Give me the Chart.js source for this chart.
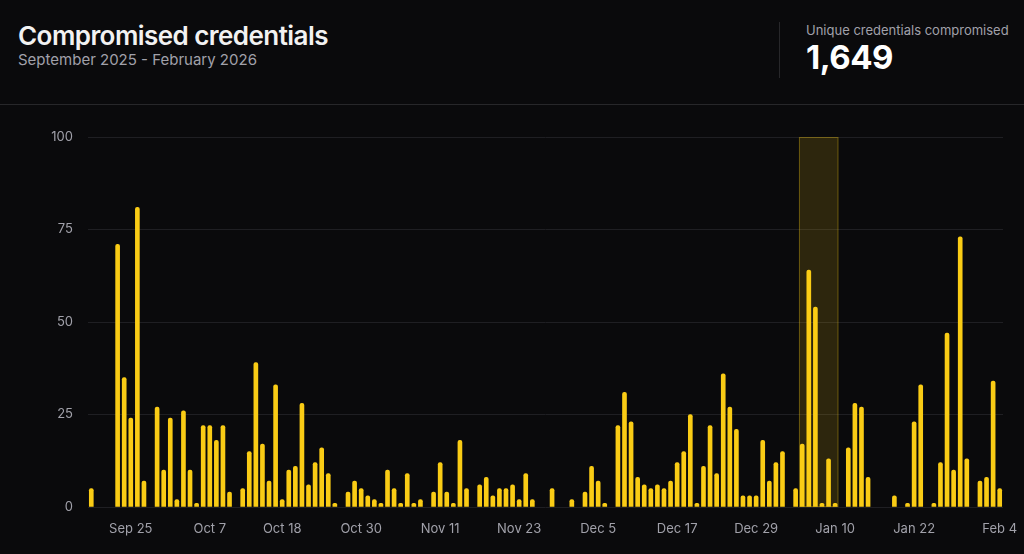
<!DOCTYPE html>
<html>
<head>
<meta charset="utf-8">
<script src="https://cdn.jsdelivr.net/npm/chart.js@4.4.1/dist/chart.umd.min.js"></script>
<style>
  html, body { margin: 0; padding: 0; background: #0a0a0c; }
  body { width: 1024px; height: 554px; position: relative; overflow: hidden; font-family: Inter, "Noto Sans", sans-serif; }
  .header { position: absolute; left: 0; top: 0; width: 1024px; height: 104px; border-bottom: 1px solid #27272a; }
  .title { position: absolute; left: 18px; top: 20px; color: #f2f2f2; font-size: 26px; font-weight: 600; letter-spacing: -0.55px; }
  .subtitle { position: absolute; left: 18px; top: 50px; color: #a1a1aa; font-size: 15px; }
  .divider { position: absolute; left: 779px; top: 22px; width: 1px; height: 56px; background: #27272a; }
  .stat-label { position: absolute; left: 806px; top: 22px; color: #a1a1aa; font-size: 13px; }
  .stat-value { position: absolute; left: 806px; top: 37px; color: #ffffff; font-size: 33px; font-weight: 700; letter-spacing: -0.5px; }
  .chart-box { position: absolute; left: 0; top: 105px; width: 1024px; height: 449px; }
</style>
</head>
<body>
<div class="header">
  <div class="title">Compromised credentials</div>
  <div class="subtitle">September 2025 - February 2026</div>
  <div class="divider"></div>
  <div class="stat-label">Unique credentials compromised</div>
  <div class="stat-value">1,649</div>
</div>
<div class="chart-box"><canvas id="grafico"></canvas></div>

<script>
// primer día de la serie (un valor por día)
const fechaInicio = new Date(2025, 8, 19);

// credenciales comprometidas por día, 19 sep 2025 - 4 feb 2026
const valores = [
  5, 0, 0, 0, 71, 35, 24, 81, 7, 0,
  27, 10, 24, 2, 26, 10, 1, 22, 22, 18,
  22, 4, 0, 5, 15, 39, 17, 7, 33, 2,
  10, 11, 28, 6, 12, 16, 9, 1, 0, 4,
  7, 5, 3, 2, 1, 10, 5, 1, 9, 1,
  2, 0, 4, 12, 4, 1, 18, 5, 0, 6,
  8, 3, 5, 5, 6, 2, 9, 2, 0, 0,
  5, 0, 0, 2, 0, 4, 11, 7, 1, 0,
  22, 31, 23, 8, 6, 5, 6, 5, 7, 12,
  15, 25, 1, 11, 22, 9, 36, 27, 21, 3,
  3, 3, 18, 7, 12, 15, 0, 5, 17, 64,
  54, 1, 13, 1, 0, 16, 28, 27, 8, 0,
  0, 0, 3, 0, 1, 23, 33, 0, 1, 12,
  47, 10, 73, 13, 0, 7, 8, 34, 5
];

// etiquetas visibles del eje x
const etiquetasEje = ['Sep 25', 'Oct 7', 'Oct 18', 'Oct 30', 'Nov 11', 'Nov 23', 'Dec 5', 'Dec 17', 'Dec 29', 'Jan 10', 'Jan 22', 'Feb 4'];

// rango resaltado (Jan 5 - Jan 10)
const rangoResaltado = ['Jan 5', 'Jan 10'];

const ticksY = [0, 25, 50, 75, 100];

const meses = ['Jan', 'Feb', 'Mar', 'Apr', 'May', 'Jun', 'Jul', 'Aug', 'Sep', 'Oct', 'Nov', 'Dec'];
const dias = valores.map((v, i) => {
  const d = new Date(fechaInicio);
  d.setDate(d.getDate() + i);
  return meses[d.getMonth()] + ' ' + d.getDate();
});

// Plugin para dibujar la franja resaltada detrás de las barras
const franjaPlugin = {
  id: 'franja',
  beforeDatasetsDraw(chart) {
    const { ctx, chartArea, scales } = chart;
    const i0 = dias.indexOf(rangoResaltado[0]);
    const i1 = dias.indexOf(rangoResaltado[1]);
    const paso = scales.x.getPixelForValue(1) - scales.x.getPixelForValue(0);
    const x0 = scales.x.getPixelForValue(i0) - paso / 2;
    const x1 = scales.x.getPixelForValue(i1) + paso / 2;
    ctx.save();
    ctx.fillStyle = 'rgba(250, 204, 21, 0.15)';
    ctx.fillRect(x0, chartArea.top, x1 - x0, chartArea.bottom - chartArea.top);
    ctx.strokeStyle = 'rgba(250, 204, 21, 0.3)';
    ctx.lineWidth = 1;
    ctx.strokeRect(x0 + 0.5, chartArea.top + 0.5, x1 - x0 - 1, chartArea.bottom - chartArea.top - 1);
    ctx.restore();
  }
};

const ctx = document.getElementById('grafico').getContext('2d');
new Chart(ctx, {
  type: 'bar',
  data: {
    labels: dias,
    datasets: [{
      label: 'Credentials',
      data: valores,
      // sin marca para los días en cero
      backgroundColor: c => (c.raw > 0 ? '#facc15' : 'rgba(0,0,0,0)'),
      barThickness: 4,
      borderRadius: 2,
      borderSkipped: 'start'
    }]
  },
  options: {
    responsive: true,
    maintainAspectRatio: false,
    animation: false,
    layout: { padding: { top: 32, right: 21, left: 0, bottom: 0 } },
    plugins: {
      legend: { display: false },
      tooltip: { enabled: false }
    },
    scales: {
      x: {
        grid: { display: false },
        border: { display: false },
        afterFit(scale) {
          scale.height = 47;
          scale.paddingLeft = 0;
          scale.paddingRight = 0;
        },
        ticks: {
          autoSkip: false,
          maxRotation: 0,
          padding: 6,
          color: '#a1a1aa',
          font: { family: 'Inter', size: 13 },
          callback(value) {
            const lbl = dias[value];
            return etiquetasEje.includes(lbl) ? lbl : null;
          }
        }
      },
      y: {
        min: 0,
        max: 100,
        afterFit(scale) { scale.width = 88; },
        afterBuildTicks(scale) { scale.ticks = ticksY.map(v => ({ value: v })); },
        grid: { color: '#1f1f23', drawTicks: false },
        border: { display: false },
        ticks: {
          padding: 15,
          color: '#a1a1aa',
          font: { family: 'Inter', size: 13 }
        }
      }
    }
  },
  plugins: [franjaPlugin]
});
</script>
</body>
</html>
